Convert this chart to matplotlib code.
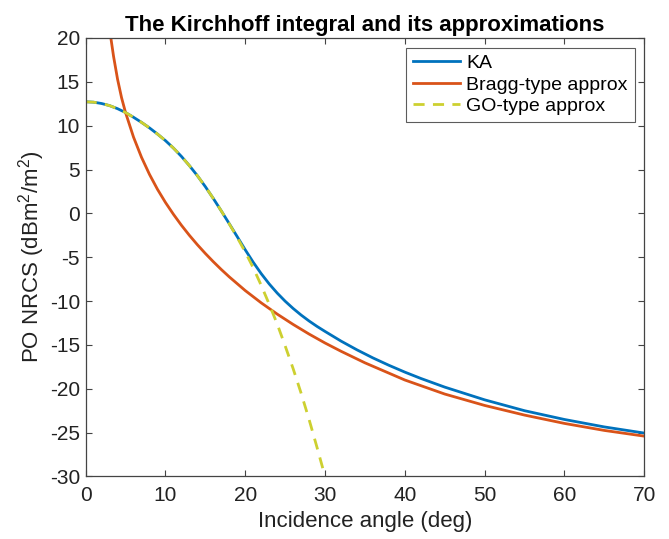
import matplotlib
matplotlib.use("Agg")
import matplotlib.pyplot as plt
import numpy as np

plt.rcParams['font.family'] = ['Liberation Sans', 'DejaVu Sans']
plt.rcParams['mathtext.default'] = 'regular'
plt.rcParams['axes.unicode_minus'] = False

# Kirchhoff approximation (KA)
ka_angle = [0, 1, 2, 3, 4, 5, 6, 7, 8, 9, 10, 11, 12, 13, 14, 15, 16, 17, 18, 19, 20,
            21, 22, 23, 24, 25, 26, 27, 28, 29, 30, 32, 34, 36, 38, 40, 42, 45, 50, 55,
            60, 65, 70]
ka_nrcs = [12.73, 12.68, 12.53, 12.29, 11.94, 11.5, 10.96, 10.38, 9.75, 9.05, 8.3, 7.45,
           6.5, 5.45, 4.3, 3.05, 1.7, 0.28, -1.18, -2.66, -4.15,
           -5.57, -6.87, -8.04, -9.08, -10.01, -10.84, -11.59, -12.27, -12.89, -13.46,
           -14.56, -15.56, -16.48, -17.32, -18.1, -18.82, -19.81, -21.26, -22.5, -23.5,
           -24.35, -25.05]

# Bragg-type approximation
bragg_angle = [3.0, 3.5, 4.0, 4.5, 5.0, 6.0, 7.0, 8.0, 9.0, 10, 11, 12, 13, 14, 15, 16, 17,
               18, 20, 22, 24, 26, 28, 30, 32, 35, 40, 45, 50, 55, 60, 65, 70]
bragg_nrcs = [21.0, 17.9, 15.3, 13.2, 11.5, 8.7, 6.4, 4.45, 2.75, 1.25, -0.1, -1.35, -2.5,
              -3.57, -4.57, -5.51, -6.4, -7.24, -8.8, -10.2, -11.48, -12.66, -13.76, -14.78,
              -15.72, -17.04, -19.0, -20.6, -21.9, -23.0, -23.95, -24.75, -25.4]

# GO-type approximation
go_angle = [0, 1, 2, 3, 4, 5, 6, 7, 8, 9, 10, 11, 12, 13, 14, 15, 16, 17, 18, 19, 20,
            21, 22, 23, 24, 25, 26, 27, 28, 29, 30, 30.3]
go_nrcs = [12.73, 12.68, 12.53, 12.29, 11.94, 11.5, 10.96, 10.38, 9.75, 9.05, 8.3, 7.45,
           6.5, 5.45, 4.3, 3.05, 1.7, 0.28, -1.2, -2.75, -4.4,
           -6.2, -8.2, -10.35, -12.6, -15.1, -17.7, -20.5, -23.5, -26.7, -30.0, -31.0]

x_ticks = [0, 10, 20, 30, 40, 50, 60, 70]
y_ticks = [-30, -25, -20, -15, -10, -5, 0, 5, 10, 15, 20]

fig = plt.figure(figsize=(6.69, 5.39), dpi=100)
ax = fig.add_axes([0.128, 0.116, 0.835, 0.8135])

ax.plot(ka_angle, ka_nrcs, color='#0072BD', lw=2.0, label='KA')
ax.plot(bragg_angle, bragg_nrcs, color='#D95319', lw=2.0, label='Bragg-type approx')
ax.plot(go_angle, go_nrcs, color='#CDD030', lw=2.0, ls=(0, (4, 3)), label='GO-type approx')

ax.set_xlim(0, 70)
ax.set_ylim(-30, 20)
ax.set_xticks(x_ticks)
ax.set_yticks(y_ticks)
ax.tick_params(direction='in', top=True, right=True, labelsize=15, length=4,
               color='#444444', labelcolor='#222222')
ax.tick_params(axis='x', pad=7)
ax.tick_params(axis='y', pad=4)
for s in ax.spines.values():
    s.set_color('#444444')
    s.set_linewidth(0.9)

ax.set_xlabel('Incidence angle (deg)', fontsize=16, color='#222222', labelpad=4)
ax.set_ylabel('PO NRCS (dBm$^2$/m$^2$)', fontsize=16, color='#222222', labelpad=2)
ax.set_title('The Kirchhoff integral and its approximations', fontsize=16,
             fontweight='bold', pad=5)

leg = ax.legend(loc='upper right', fontsize=14, frameon=True, fancybox=False,
                edgecolor='#333333', borderaxespad=0.5, handlelength=2.4,
                labelspacing=0.2, borderpad=0.35, handletextpad=0.35)
leg.get_frame().set_linewidth(0.8)

fig.savefig('out.png', dpi=100)
